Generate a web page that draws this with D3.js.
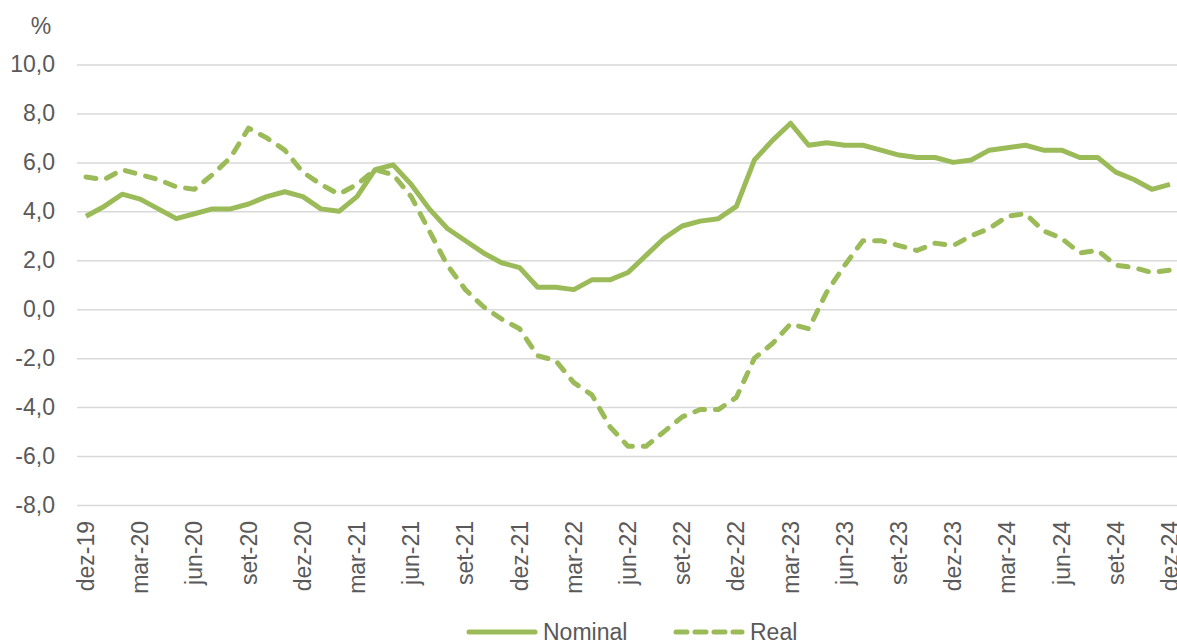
<!DOCTYPE html>
<html>
<head>
<meta charset="utf-8">
<script src="https://cdn.jsdelivr.net/npm/d3@7"></script>
<style>
    body { margin: 0; background: #fff; }
    svg { display: block; font-family: "Liberation Sans", Arial, sans-serif; }
</style>
</head>
<body>
<div id="line-graph"></div>
<script>
// Month labels (dez-19 to dez-24)
var months = ["dez-19","jan-20","fev-20","mar-20","abr-20","mai-20","jun-20","jul-20","ago-20","set-20","out-20","nov-20",
    "dez-20","jan-21","fev-21","mar-21","abr-21","mai-21","jun-21","jul-21","ago-21","set-21","out-21","nov-21",
    "dez-21","jan-22","fev-22","mar-22","abr-22","mai-22","jun-22","jul-22","ago-22","set-22","out-22","nov-22",
    "dez-22","jan-23","fev-23","mar-23","abr-23","mai-23","jun-23","jul-23","ago-23","set-23","out-23","nov-23",
    "dez-23","jan-24","fev-24","mar-24","abr-24","mai-24","jun-24","jul-24","ago-24","set-24","out-24","nov-24",
    "dez-24"];

// Series values (%)
var nominal = [3.8, 4.2, 4.7, 4.5, 4.1, 3.7, 3.9, 4.1, 4.1, 4.3, 4.6, 4.8,
    4.6, 4.1, 4.0, 4.6, 5.7, 5.9, 5.1, 4.1, 3.3, 2.8, 2.3, 1.9,
    1.7, 0.9, 0.9, 0.8, 1.2, 1.2, 1.5, 2.2, 2.9, 3.4, 3.6, 3.7,
    4.2, 6.1, 6.9, 7.6, 6.7, 6.8, 6.7, 6.7, 6.5, 6.3, 6.2, 6.2,
    6.0, 6.1, 6.5, 6.6, 6.7, 6.5, 6.5, 6.2, 6.2, 5.6, 5.3, 4.9,
    5.1];

var real = [5.4, 5.3, 5.7, 5.5, 5.3, 5.0, 4.9, 5.5, 6.2, 7.4, 7.0, 6.5,
    5.6, 5.1, 4.7, 5.1, 5.7, 5.5, 4.6, 3.2, 1.8, 0.8, 0.1, -0.4,
    -0.8, -1.9, -2.1, -3.0, -3.5, -4.8, -5.6, -5.6, -5.0, -4.4, -4.1, -4.1,
    -3.6, -2.0, -1.4, -0.6, -0.8, 0.7, 1.8, 2.8, 2.8, 2.6, 2.4, 2.7,
    2.6, 3.0, 3.3, 3.8, 3.9, 3.2, 2.9, 2.3, 2.4, 1.8, 1.7, 1.5,
    1.6];

// Y ticks
var yTicks = [-8, -6, -4, -2, 0, 2, 4, 6, 8, 10];

var seriesNames = ["Nominal", "Real"];

var green = "#9bbb59",
    grey = "#595959";

var W = 1177, H = 642;
var margin = {top: 64.5, right: -2, bottom: 137, left: 77},
    width = W - margin.left - margin.right,
    height = H - margin.top - margin.bottom;

var svg = d3.select("#line-graph").append("svg")
    .attr("width", W)
    .attr("height", H);

var g = svg.append("g")
    .attr("transform", "translate(" + margin.left + "," + margin.top + ")");

// Setting the ranges
var x = d3.scaleBand().domain(months).range([0, width]).padding(0);
var y = d3.scaleLinear().domain([-8, 10]).range([height, 0]);

// gridlines
g.append("g")
    .call(d3.axisLeft(y).tickValues(yTicks).tickSize(-width).tickFormat(""))
    .call(function(a) {
        a.select(".domain").remove();
        a.selectAll(".tick line").attr("stroke", "#d9d9d9").attr("stroke-width", 1.5);
    });

// Y axis labels
g.append("g")
    .call(d3.axisLeft(y).tickValues(yTicks).tickSize(0).tickPadding(22)
        .tickFormat(function(d) { return d3.format(".1f")(d).replace(".", ",").replace("−", "-"); }))
    .call(function(a) {
        a.select(".domain").remove();
        a.selectAll("text").attr("fill", grey).style("font-size", "23px");
    });

// X axis, a label every 3 months
var xAxis = g.append("g")
    .attr("transform", "translate(0," + height + ")")
    .call(d3.axisBottom(x).tickSize(0)
        .tickValues(months.filter(function(d, i) { return i % 3 === 0; })))
xAxis.select(".domain").remove();
xAxis.selectAll("text")
    .attr("fill", grey)
    .style("font-size", "23px")
    .attr("transform", "rotate(-90)")
    .attr("x", -16)
    .attr("y", 0)
    .attr("dy", "0.35em")
    .style("text-anchor", "end");

// "%" unit label
svg.append("text")
    .attr("x", 41)
    .attr("y", 34)
    .attr("text-anchor", "middle")
    .style("font-size", "23px")
    .attr("fill", grey)
    .text("%");

var line = d3.line()
    .x(function(d, i) { return x(months[i]) + x.bandwidth() / 2; })
    .y(function(d) { return y(d); });

// Real (dashed)
g.append("path")
    .datum(real)
    .attr("fill", "none")
    .attr("stroke", green)
    .attr("stroke-width", 5)
    .attr("stroke-linecap", "round")
    .attr("stroke-linejoin", "round")
    .attr("stroke-dasharray", "10,11")
    .attr("d", line);

// Nominal (solid)
g.append("path")
    .datum(nominal)
    .attr("fill", "none")
    .attr("stroke", green)
    .attr("stroke-width", 5)
    .attr("stroke-linejoin", "round")
    .attr("d", line);

// Legend
var legend = svg.append("g").attr("class", "legend");
var legX = [466, 673];
seriesNames.forEach(function(name, i) {
    legend.append("line")
        .attr("x1", legX[i] + 3).attr("x2", legX[i] + 69)
        .attr("y1", 632).attr("y2", 632)
        .attr("stroke", green)
        .attr("stroke-width", 5)
        .attr("stroke-linecap", "round")
        .attr("stroke-dasharray", i === 1 ? "11,8" : null);
    legend.append("text")
        .attr("x", legX[i] + 77)
        .attr("y", 640)
        .style("font-size", "23px")
        .attr("fill", grey)
        .text(name);
});
</script>
</body>
</html>
